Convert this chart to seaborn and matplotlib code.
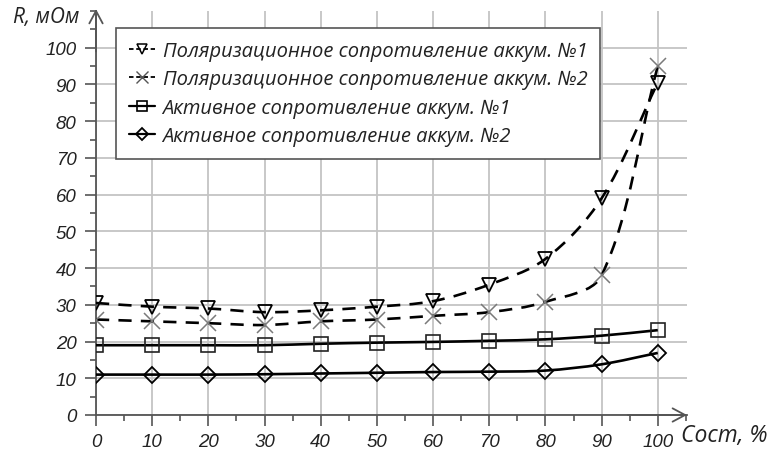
import numpy as np
import pandas as pd
import matplotlib
matplotlib.use("Agg")
import matplotlib.pyplot as plt
from matplotlib.path import Path
from matplotlib.patches import PathPatch
from matplotlib.lines import Line2D
from matplotlib.ticker import MultipleLocator
import seaborn as sns

# State of charge, %
charge = [0, 10, 20, 30, 40, 50, 60, 70, 80, 90, 100]

# Resistance, mOhm
polar_1 = [30.5, 29.5, 29.0, 28.0, 28.5, 29.5, 31.0, 35.5, 42.5, 59.0, 90.5]
polar_2 = [26.0, 25.5, 25.0, 24.5, 25.5, 26.0, 27.0, 28.0, 30.8, 38.0, 95.0]
active_1 = [19.0, 19.0, 19.0, 19.0, 19.4, 19.7, 19.9, 20.2, 20.6, 21.6, 23.1]
active_2 = [11.0, 11.0, 11.0, 11.1, 11.3, 11.5, 11.7, 11.8, 12.1, 13.8, 16.9]

series_labels = [
    "Поляризационное сопротивление аккум. №1",
    "Поляризационное сопротивление аккум. №2",
    "Активное сопротивление аккум. №1",
    "Активное сопротивление аккум. №2",
]
x_ticks = list(range(0, 101, 10))
y_ticks = list(range(0, 101, 10))

sns.set_theme(style="white")
plt.rcParams["font.family"] = ["Liberation Sans", "DejaVu Sans"]
plt.rcParams["font.style"] = "italic"

LABEL_FONT = ["Open Sans", "Liberation Sans", "DejaVu Sans"]
AX_COLOR = "#555555"
GRID_COLOR = "#c4c4c4"
TEXT_COLOR = "#222222"

fig = plt.figure(figsize=(7.72, 4.52), dpi=100)
ax = fig.add_axes([96 / 772, 36 / 452, 591 / 772, 404 / 452])
ax.set_xlim(0, 105.2)
ax.set_ylim(0, 110)


def smooth_path(ax, xs, ys, tension=1 / 3):
    """Smooth Bezier curve through the points; control arms are built in
    display space and scaled by the neighbouring segment lengths."""
    pts = ax.transData.transform(np.column_stack([xs, ys]).astype(float))
    n = len(pts)
    seg = np.hypot(*np.diff(pts, axis=0).T)
    verts = [pts[0]]
    codes = [Path.MOVETO]
    for i in range(n - 1):
        p1, p2 = pts[i], pts[i + 1]
        p0 = pts[i - 1] if i > 0 else p1
        p3 = pts[i + 2] if i + 2 < n else p2
        l01 = seg[i - 1] if i > 0 else 0.0
        l12 = seg[i]
        l23 = seg[i + 1] if i + 2 < n else 0.0
        c1 = p1 + (p2 - p0) * tension * l12 / (l01 + l12)
        c2 = p2 - (p3 - p1) * tension * l12 / (l12 + l23)
        verts += [c1, c2, p2]
        codes += [Path.CURVE4] * 3
    verts = ax.transData.inverted().transform(np.array(verts))
    return Path(verts, codes)


styles = [
    dict(y=polar_1, ls=(0, (5, 3.5)), marker="v", ms=10, mec="black", mew=1.3),
    dict(y=polar_2, ls=(0, (5, 3.5)), marker="x", ms=11, mec="#7a7a7a", mew=1.1),
    dict(y=active_1, ls="-", marker="s", ms=10, mec="#222222", mew=1.2),
    dict(y=active_2, ls="-", marker="D", ms=8, mec="black", mew=1.3),
]

for st in styles:
    patch = PathPatch(smooth_path(ax, charge, st["y"]), fill=False, edgecolor="black",
                      lw=1.9, linestyle=st["ls"], zorder=3, capstyle="butt")
    ax.add_patch(patch)
    df = pd.DataFrame({"x": charge, "y": st["y"]})
    sns.lineplot(data=df, x="x", y="y", ax=ax, linestyle="", marker=st["marker"],
                 ms=st["ms"], mfc="none", mec=st["mec"], mew=st["mew"],
                 color=st["mec"], errorbar=None, zorder=4)

ax.set_xlim(0, 105.2)
ax.set_ylim(0, 110)
ax.set_xticks(x_ticks)
ax.set_yticks(y_ticks)
ax.set_xticklabels([str(v) for v in x_ticks], fontsize=13.5, style="italic", color=TEXT_COLOR)
ax.set_yticklabels([str(v) for v in y_ticks], fontsize=13.5, style="italic", color=TEXT_COLOR)
ax.xaxis.set_minor_locator(MultipleLocator(5))
ax.yaxis.set_minor_locator(MultipleLocator(5))
ax.tick_params(axis="both", which="major", direction="out", length=8, width=1.2,
               color=AX_COLOR, bottom=True, left=True)
ax.tick_params(axis="both", which="minor", direction="out", length=4.5, width=1.2,
               color=AX_COLOR, bottom=True, left=True)
ax.tick_params(axis="y", which="major", pad=6)
ax.tick_params(axis="x", which="major", pad=5)
ax.set_xlabel("")
ax.set_ylabel("")

ax.grid(True, which="major", color=GRID_COLOR, lw=1.3)
ax.set_axisbelow(True)
for side in ("top", "right"):
    ax.spines[side].set_visible(False)
for side in ("left", "bottom"):
    ax.spines[side].set_color(AX_COLOR)
    ax.spines[side].set_linewidth(1.3)

arrow = dict(arrowstyle="->,head_length=0.75,head_width=0.4", color=AX_COLOR, lw=1.3,
             shrinkA=0, shrinkB=0)
ax.annotate("", xy=(1, 0), xytext=(0.9, 0), xycoords="axes fraction", arrowprops=arrow)
ax.annotate("", xy=(0, 1.005), xytext=(0, 0.9), xycoords="axes fraction", arrowprops=arrow)

fig.text(13 / 772, 1 - 18 / 452, "R, мОм", fontsize=15, style="italic",
         family=LABEL_FONT, ha="left", va="center", color=TEXT_COLOR)
fig.text(681 / 772, 1 - 436 / 452, "Сост, %", fontsize=16.5, style="italic",
         family=LABEL_FONT, ha="left", va="center", color=TEXT_COLOR)

handles = [
    Line2D([], [], color="black", lw=1.3, ls=(0, (2.5, 1.5)), marker="v", ms=7,
           mfc="none", mec="black", mew=1.1),
    Line2D([], [], color="black", lw=1.3, ls=(0, (2.5, 1.5)), marker="x", ms=8,
           mfc="none", mec="#555555", mew=1.0),
    Line2D([], [], color="black", lw=1.6, ls="-", marker="s", ms=7.5,
           mfc="none", mec="black", mew=1.2),
    Line2D([], [], color="black", lw=1.6, ls="-", marker="D", ms=6,
           mfc="none", mec="black", mew=1.3),
]
leg = ax.legend(handles, series_labels, loc="upper left",
                bbox_to_anchor=(116 / 772, 1 - 29 / 452), bbox_transform=fig.transFigure,
                borderaxespad=0, frameon=True, fancybox=False, framealpha=1,
                edgecolor="#555555",
                prop=dict(size=14.5, style="italic", family=LABEL_FONT),
                handlelength=1.3, handletextpad=0.38, labelspacing=0.42,
                borderpad=0.63)
leg.get_frame().set_linewidth(1.2)
for t in leg.get_texts():
    t.set_color(TEXT_COLOR)

fig.savefig("out.png", dpi=100)
